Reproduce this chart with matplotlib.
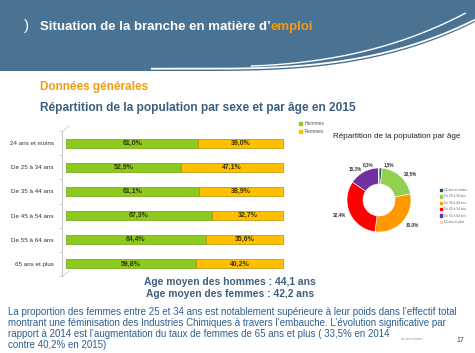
import matplotlib
matplotlib.use("Agg")
import matplotlib.pyplot as plt
from matplotlib.patches import Polygon, Rectangle
import numpy as np

plt.rcParams['font.family'] = ['Liberation Sans', 'DejaVu Sans']

# Data
ages = ["24 ans et moins", "De 25 à 34 ans", "De 35 à 44 ans",
        "De 45 à 54 ans", "De 55 à 64 ans", "65 ans et plus"]
hommes = [61.0, 52.9, 61.1, 67.3, 64.4, 59.8]
femmes = [39.0, 47.1, 38.9, 32.7, 35.6, 40.2]
repartition_age = [1.5, 20.5, 30.0, 32.4, 15.3, 0.3]
age_colors = ['#1f4e79', '#92d050', '#ff9900', '#ff0000', '#7030a0', '#fcd5b4']

W, H = 475, 353
fig = plt.figure(figsize=(W / 100, H / 100), dpi=100)
fig.patch.set_facecolor('white')


def box(x0, y0, x1, y1):
    # pixel box (top-left origin) -> figure fraction rect
    return [x0 / W, 1 - y1 / H, (x1 - x0) / W, (y1 - y0) / H]


def edge(x):
    return 69 - 49 * (np.clip(x - 200, 0, None) / 275) ** 2.8


# Background / slide decoration layer
bg = fig.add_axes([0, 0, 1, 1])
bg.set_xlim(0, W)
bg.set_ylim(H, 0)
bg.axis('off')

blue = '#4a7292'
xs = np.linspace(0, W, 300)
pts = [(0, 0), (W, 0)] + [(x, edge(x) + 2) for x in xs[::-1]]
bg.add_patch(Polygon(pts, closed=True, facecolor=blue, edgecolor='none'))
xx = xs[xs > 150]
bg.plot(xx, edge(xx) - 0.3, color='white', lw=1.3, solid_capstyle='butt')
xx = xs[(xs > 250) & (xs < 466)]
tt = ((xx - 250) / 216) ** 1.4
bg.plot(xx, edge(xx) - 2.5 - 9 * tt, color='white', lw=1.0, solid_capstyle='round')

bg.text(26, 26, ")", color='white', fontsize=11, va='center', ha='center')
t = bg.text(40, 27, "Situation de la branche en matière d\u2019", color='white',
            fontsize=9.5, fontweight='bold', va='center')
bg.annotate("emploi", xy=(1, 0.5), xycoords=t, color='#f39c12', fontsize=9.5,
            fontweight='bold', va='center', ha='left')

bg.text(40, 87, "Données générales", color='#f39c12', fontsize=8.5,
        fontweight='bold', va='center')
bg.text(40, 108, "Répartition de la population par sexe et par âge en 2015",
        color='#3d5f7f', fontsize=8.6, fontweight='bold', va='center')

bg.text(230, 282, "Age moyen des hommes : 44,1 ans", color='#3d5f7f', fontsize=7.4,
        fontweight='bold', ha='center', va='center')
bg.text(230, 294, "Age moyen des femmes : 42,2 ans", color='#3d5f7f', fontsize=7.4,
        fontweight='bold', ha='center', va='center')

para = ["La proportion des femmes entre 25 et 34 ans est notablement supérieure à leur poids dans l\u2019effectif total",
        "montrant une féminisation des Industries Chimiques à travers l\u2019embauche. L\u2019évolution significative par",
        "rapport à 2014 est l\u2019augmentation du taux de femmes de 65 ans et plus ( 33,5% en 2014",
        "contre 40,2% en 2015)"]
for i, line in enumerate(para):
    bg.text(8, 312 + i * 11, line, color='#2f5f8f', fontsize=7, va='center')
bg.text(412, 339, "observatoire", color='#8aa0b8', fontsize=3, va='center', ha='center')
bg.text(460, 340, "17", color='#444444', fontsize=5, va='center', ha='center')

# Bar chart
ax = fig.add_axes(box(66, 131, 284, 276))
ax.spines['left'].set_position(('outward', 3))
y = np.arange(len(ages))
ax.barh(y, hommes, height=0.37, color='#8ccb1e', edgecolor='#6aa010', lw=0.5)
ax.barh(y, femmes, left=hommes, height=0.37, color='#ffc000', edgecolor='#b88a00', lw=0.5)
for i in range(len(ages)):
    ax.text(hommes[i] / 2, i, f"{hommes[i]:.1f}%".replace('.', ','), ha='center',
            va='center', fontsize=5, color='#333300', fontweight='bold')
    ax.text(hommes[i] + femmes[i] / 2, i, f"{femmes[i]:.1f}%".replace('.', ','), ha='center',
            va='center', fontsize=5, color='#333300', fontweight='bold')
ax.set_xlim(0, 100.5)
ax.set_ylim(5.5, -0.5)
ax.set_yticks(y)
ax.set_yticks(np.arange(-0.5, 6, 1), minor=True)
ax.set_yticklabels(ages, fontsize=4.5, color='#333333')
ax.tick_params(axis='y', which='major', length=0, pad=6)
ax.tick_params(axis='y', which='minor', length=2, width=0.6, color='#c8c8c8')
ax.set_xticks([])
for s in ['top', 'right', 'bottom']:
    ax.spines[s].set_visible(False)
ax.spines['left'].set_color('#c8c8c8')
ax.patch.set_alpha(0)
bg.plot([63, 69], [131, 126], color='#c8c8c8', lw=0.6)
bg.plot([63, 69], [276, 271], color='#c8c8c8', lw=0.6)

# Legend for bars
bg.add_patch(Rectangle((299, 122), 3, 3, color='#8ccb1e'))
bg.text(305, 123.5, "Hommes", fontsize=3.6, color='#555555', va='center')
bg.add_patch(Rectangle((299, 130), 3, 3, color='#ffc000'))
bg.text(305, 131.5, "Femmes", fontsize=3.6, color='#555555', va='center')

# Donut chart
bg.text(333, 136, "Répartition de la population par âge", fontsize=5.8,
        color='#222222', va='center')
axp = fig.add_axes(box(339, 160, 419, 240))
labels = [f"{v:.1f}%".replace('.', ',') for v in repartition_age]
wedges, texts = axp.pie(repartition_age, colors=age_colors, startangle=90,
                        counterclock=False, labels=labels, labeldistance=1.13,
                        wedgeprops=dict(width=0.5, edgecolor='white', linewidth=0.4),
                        textprops=dict(fontsize=3.3, color='#333333', fontweight='bold'))
texts[5].set_position((-0.18, 1.1))
texts[0].set_position((0.15, 1.1))
axp.set_aspect('equal')

for i, a in enumerate(ages):
    yy = 190 + i * 6.4
    bg.add_patch(Rectangle((440, yy - 1.2), 2.4, 2.4, color=age_colors[i]))
    bg.text(444, yy, a, fontsize=2.3, color='#666666', va='center')

fig.savefig("out.png", dpi=100)
